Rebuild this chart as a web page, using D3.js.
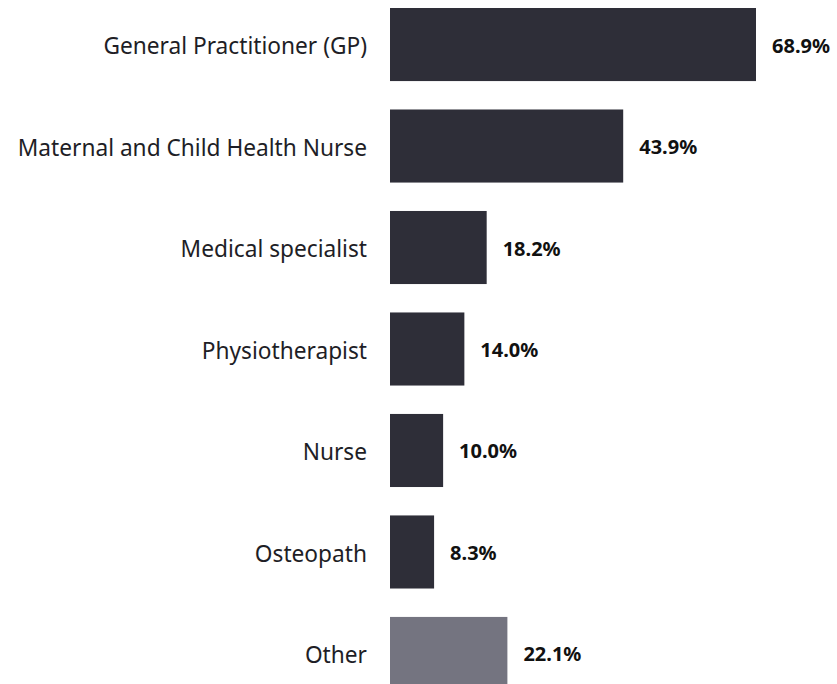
<!DOCTYPE html>
<html>
<head>
<meta charset="utf-8">
<script src="https://cdn.jsdelivr.net/npm/d3@7"></script>
<style>
  body { margin: 0; background: #fff; }
  .cat { font-family: "Noto Sans", sans-serif; font-size: 22.7px; fill: #1e1e26; }
  .val { font-family: "Noto Sans", sans-serif; font-weight: bold; font-size: 20px; fill: #111; }
</style>
</head>
<body>
<div id="chart"></div>
<script>
var categories = ["General Practitioner (GP)", "Maternal and Child Health Nurse", "Medical specialist",
    "Physiotherapist", "Nurse", "Osteopath", "Other"];
var values = [68.9, 43.9, 18.2, 14.0, 10.0, 8.3, 22.1];
var barColors = ["#2e2e38", "#2e2e38", "#2e2e38", "#2e2e38", "#2e2e38", "#2e2e38", "#747480"];

var data = categories.map(function (c, i) {
    return {key: c, value: values[i], color: barColors[i]};
});

var width = 837, height = 684;
var left = 390;

var x = d3.scaleLinear()
    .domain([0, 68.9])
    .range([left, 756]);

var y = d3.scaleBand()
    .domain(categories)
    .range([8, 690])
    .paddingInner(0.28)
    .paddingOuter(0);

var svg = d3.select("#chart").append("svg")
    .attr("width", width)
    .attr("height", height);

// bars
svg.selectAll("rect.bar")
    .data(data)
    .enter().append("rect")
    .attr("class", "bar")
    .attr("x", x(0))
    .attr("y", function (d) { return y(d.key); })
    .attr("width", function (d) { return x(d.value) - x(0); })
    .attr("height", y.bandwidth())
    .attr("fill", function (d) { return d.color; });

// category labels
svg.selectAll("text.cat")
    .data(data)
    .enter().append("text")
    .attr("class", "cat")
    .attr("x", left - 23)
    .attr("y", function (d) { return y(d.key) + y.bandwidth() / 2; })
    .attr("dy", "0.42em")
    .attr("text-anchor", "end")
    .text(function (d) { return d.key; });

// value labels
svg.selectAll("text.val")
    .data(data)
    .enter().append("text")
    .attr("class", "val")
    .attr("x", function (d) { return x(d.value) + 16; })
    .attr("y", function (d) { return y(d.key) + y.bandwidth() / 2; })
    .attr("dy", "0.4em")
    .text(function (d) { return d.value.toFixed(1) + "%"; });
</script>
</body>
</html>
